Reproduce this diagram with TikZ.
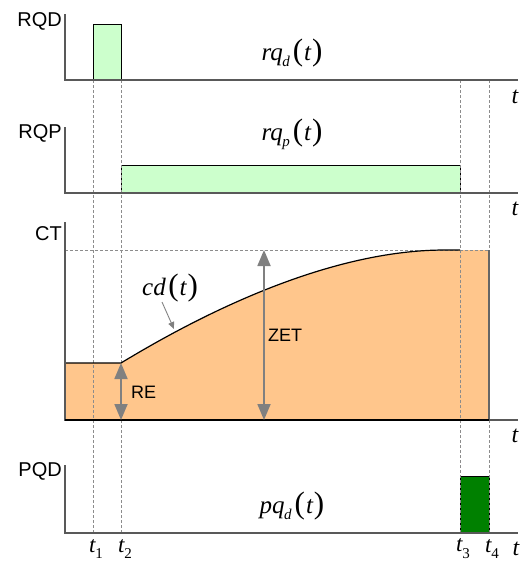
\documentclass[tikz,border=0pt]{standalone}
\usepackage{fontspec}
\setmainfont{Liberation Sans}
\newfontfamily\tms{Liberation Serif}
\usetikzlibrary{arrows.meta}
\newcommand\mfun[2]{{\tms\itshape\fontsize{25}{25}\selectfont #1\kern-0.5pt\raisebox{-0.25em}{\fontsize{15}{15}\selectfont #2}\kern3pt{\upshape\fontsize{31}{31}\selectfont(}\kern1pt t\kern1pt{\upshape\fontsize{31}{31}\selectfont)}}}
\newcommand\tsub[1]{{\tms\itshape\fontsize{23}{23}\selectfont t\raisebox{-0.3em}{\fontsize{15}{15}\selectfont\upshape #1}}}
\begin{document}
\begin{tikzpicture}[x=1pt,y=-1pt,
  axis/.style={draw=black!65,line width=1.3pt},
  guide/.style={draw=black!45,densely dashed,line width=0.5pt},
  lbl/.style={font=\fontsize{20}{20}\selectfont,anchor=east,inner sep=1pt},
  tlbl/.style={font=\tms\itshape\fontsize{24}{24}\selectfont,inner sep=0pt},
  dim/.style={draw=black!50,line width=1.8pt,{Triangle[length=16pt,width=13pt]}-{Triangle[length=16pt,width=13pt]}},
  ]
\useasboundingbox (0,0) rectangle (523,562);
% fills
\filldraw[fill=green!20,draw=black,line width=0.8pt] (93,24) rectangle (121,80);
\filldraw[fill=green!20,draw=black,line width=0.8pt] (121,165) rectangle (460,193);
\fill[fill=orange!45] (65,363) -- (121,363) .. controls (205,312) and (330,250) .. (445,250) -- (489,250) -- (489,420) -- (65,420) -- cycle;
\filldraw[fill=green!50!black,draw=black,line width=0.8pt] (460,476) rectangle (489,533);
% guides
\coordinate (g1a) at (93,80); \coordinate (g1b) at (93,533);
\coordinate (g2a) at (121,80); \coordinate (g2b) at (121,533);
\coordinate (g3a) at (460,80); \coordinate (g3b) at (460,533);
\coordinate (g4a) at (489,80); \coordinate (g4b) at (489,533);
\coordinate (hl) at (65,250); \coordinate (hr) at (489,250);
\draw[guide] (g1a) -- (g1b);
\draw[guide] (g2a) -- (g2b);
\draw[guide] (g3a) -- (g3b);
\draw[guide] (g4a) -- (g4b);
\draw[guide] (hl) -- (hr);
% CT curve and frame
\draw[black,line width=1.2pt] (65,363) -- (121,363) .. controls (205,312) and (330,250) .. (445,250) -- (460,250);
\draw[black!60,line width=1.2pt] (489,250) -- (489,420);
% axes
\foreach \top/\base/\n in {14/80/a,127/193/b,222/420/c,465/533/d}{
  \coordinate (o\n) at (65,\base);
  \coordinate (y\n) at (65,\top);
  \coordinate (x\n) at (518,\base);
  \draw[axis] (y\n) -- (o\n) -- (x\n);
}
\draw[black,line width=1.2pt] (65,420) -- (489,420);
% labels
\node[lbl] (rqd) at (63,21) {RQD};
\node[lbl] (rqp) at (63,133) {RQP};
\node[lbl] (ct) at (63,234) {CT};
\node[lbl] (pqd) at (63,471) {PQD};
\node (frqd) at (292,53) {\mfun{rq}{d}};
\node (frqp) at (292,134) {\mfun{rq}{p}};
\node (fpqd) at (292,506) {\mfun{pq}{d}};
\node (fcd) at (170,288) {\mfun{cd}{}};
\node[tlbl] (ta) at (515,97) {t};
\node[tlbl] (tb) at (515,209) {t};
\node[tlbl] (tc) at (515,436) {t};
\node[tlbl] (td) at (516,549) {t};
\node (t1) at (96,549) {\tsub{1}};
\node (t2) at (125,549) {\tsub{2}};
\node (t3) at (463,549) {\tsub{3}};
\node (t4) at (492,549) {\tsub{4}};
% dimension arrows
\coordinate (zt) at (264,250); \coordinate (zb) at (264,420);
\coordinate (rt) at (121,363); \coordinate (rb) at (121,420);
\draw[dim] (zt) -- (zb);
\draw[dim] (rt) -- (rb);
\node[font=\fontsize{18}{18}\selectfont,anchor=west,inner sep=1pt] (zet) at (267,335) {ZET};
\node[font=\fontsize{18}{18}\selectfont,anchor=west,inner sep=1pt] (re) at (130,392) {RE};
\coordinate (cdp) at (174,329);
\draw[draw=black!50,line width=0.9pt,-{Triangle[length=7pt,width=6pt]}] (162,302) -- (cdp);
\end{tikzpicture}
\end{document}
